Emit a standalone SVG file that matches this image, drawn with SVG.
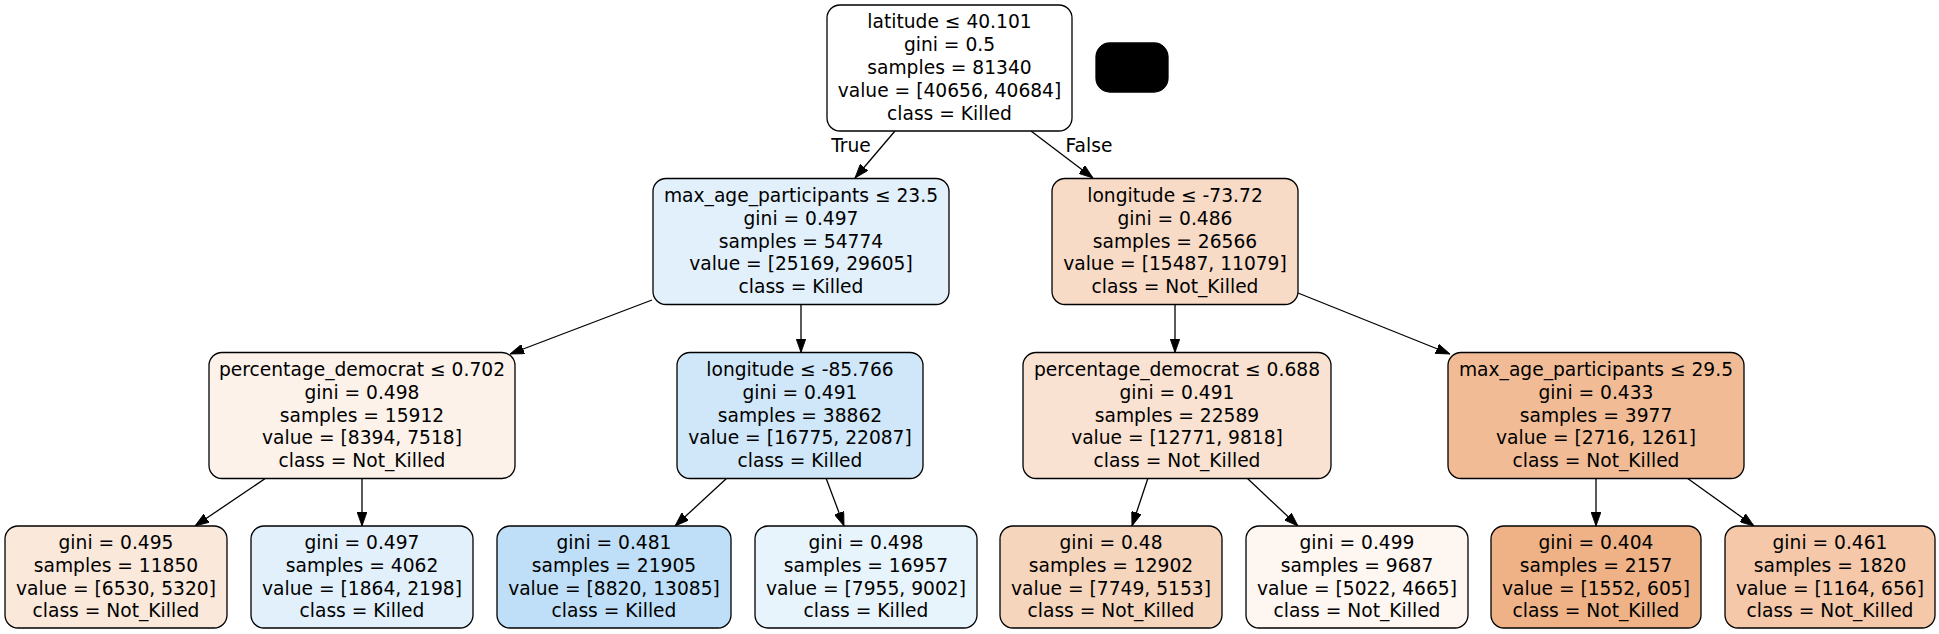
<svg xmlns="http://www.w3.org/2000/svg" width="1939" height="634" viewBox="0 0 1939 634">
<style>
.n rect{stroke:#000;stroke-width:1.3}
.n text,.lbl{font-family:"DejaVu Sans","Liberation Sans",sans-serif;font-size:18.67px;fill:#000;text-anchor:middle}
.e path{stroke:#000;stroke-width:1.3;fill:none;marker-end:url(#ah)}
</style>
<defs>
<marker id="ah" markerUnits="userSpaceOnUse" markerWidth="14" markerHeight="10" viewBox="0 0 13.3 9.4" refX="13.3" refY="4.7" orient="auto">
<path d="M0,0 L13.3,4.7 L0,9.4 z" fill="#000" stroke="#000" stroke-width="0.8"/>
</marker>
</defs>
<rect width="1939" height="634" fill="#fff"/>
<g id="connectors" class="e">
<path d="M895,131 L855,178"/>
<path d="M1031,131 L1093,178"/>
<path d="M652,300 L510,354"/>
<path d="M801,304.5 L801,352.5"/>
<path d="M1175,304.5 L1175,352.5"/>
<path d="M1298,293 L1450,354"/>
<path d="M266,478 L195,526"/>
<path d="M362,478.5 L362,526"/>
<path d="M727,478 L675,526"/>
<path d="M826,478 L844,526"/>
<path d="M1148,478 L1132,526"/>
<path d="M1247,478 L1298,526"/>
<path d="M1596,478.5 L1596,526"/>
<path d="M1687,478 L1754,526"/>
<text class="lbl" x="851" y="152">True</text>
<text class="lbl" x="1089" y="152">False</text>
</g>
<g id="node0" class="n">
<rect x="827" y="5" width="245" height="126" rx="13" fill="#ffffff"/>
<text x="949.5" y="28.2">latitude ≤ 40.101</text>
<text x="949.5" y="51.1">gini = 0.5</text>
<text x="949.5" y="74">samples = 81340</text>
<text x="949.5" y="96.9">value = [40656, 40684]</text>
<text x="949.5" y="119.8">class = Killed</text>
</g>
<g id="legend" class="n">
<rect x="1096" y="43" width="72" height="49" rx="14" fill="#000"/>
</g>
<g id="node1" class="n">
<rect x="653" y="178.5" width="296" height="126" rx="13" fill="#e1f0fb"/>
<text x="801" y="201.7">max_age_participants ≤ 23.5</text>
<text x="801" y="224.6">gini = 0.497</text>
<text x="801" y="247.5">samples = 54774</text>
<text x="801" y="270.4">value = [25169, 29605]</text>
<text x="801" y="293.3">class = Killed</text>
</g>
<g id="node2" class="n">
<rect x="1052" y="178.5" width="246" height="126" rx="13" fill="#f8dbc7"/>
<text x="1175" y="201.7">longitude ≤ -73.72</text>
<text x="1175" y="224.6">gini = 0.486</text>
<text x="1175" y="247.5">samples = 26566</text>
<text x="1175" y="270.4">value = [15487, 11079]</text>
<text x="1175" y="293.3">class = Not_Killed</text>
</g>
<g id="node3" class="n">
<rect x="209" y="352.5" width="306" height="126" rx="13" fill="#fcf2ea"/>
<text x="362" y="375.7">percentage_democrat ≤ 0.702</text>
<text x="362" y="398.6">gini = 0.498</text>
<text x="362" y="421.5">samples = 15912</text>
<text x="362" y="444.4">value = [8394, 7518]</text>
<text x="362" y="467.3">class = Not_Killed</text>
</g>
<g id="node4" class="n">
<rect x="677" y="352.5" width="246" height="126" rx="13" fill="#cfe7f9"/>
<text x="800" y="375.7">longitude ≤ -85.766</text>
<text x="800" y="398.6">gini = 0.491</text>
<text x="800" y="421.5">samples = 38862</text>
<text x="800" y="444.4">value = [16775, 22087]</text>
<text x="800" y="467.3">class = Killed</text>
</g>
<g id="node5" class="n">
<rect x="1023" y="352.5" width="308" height="126" rx="13" fill="#f9e2d1"/>
<text x="1177" y="375.7">percentage_democrat ≤ 0.688</text>
<text x="1177" y="398.6">gini = 0.491</text>
<text x="1177" y="421.5">samples = 22589</text>
<text x="1177" y="444.4">value = [12771, 9818]</text>
<text x="1177" y="467.3">class = Not_Killed</text>
</g>
<g id="node6" class="n">
<rect x="1448" y="352.5" width="296" height="126" rx="13" fill="#f1bc95"/>
<text x="1596" y="375.7">max_age_participants ≤ 29.5</text>
<text x="1596" y="398.6">gini = 0.433</text>
<text x="1596" y="421.5">samples = 3977</text>
<text x="1596" y="444.4">value = [2716, 1261]</text>
<text x="1596" y="467.3">class = Not_Killed</text>
</g>
<g id="leaf1" class="n">
<rect x="5" y="526" width="222" height="102" rx="13" fill="#fae8da"/>
<text x="116" y="548.7">gini = 0.495</text>
<text x="116" y="571.6">samples = 11850</text>
<text x="116" y="594.5">value = [6530, 5320]</text>
<text x="116" y="617.4">class = Not_Killed</text>
</g>
<g id="leaf2" class="n">
<rect x="251" y="526" width="222" height="102" rx="13" fill="#e1f0fb"/>
<text x="362" y="548.7">gini = 0.497</text>
<text x="362" y="571.6">samples = 4062</text>
<text x="362" y="594.5">value = [1864, 2198]</text>
<text x="362" y="617.4">class = Killed</text>
</g>
<g id="leaf3" class="n">
<rect x="497" y="526" width="234" height="102" rx="13" fill="#bedff7"/>
<text x="614" y="548.7">gini = 0.481</text>
<text x="614" y="571.6">samples = 21905</text>
<text x="614" y="594.5">value = [8820, 13085]</text>
<text x="614" y="617.4">class = Killed</text>
</g>
<g id="leaf4" class="n">
<rect x="755" y="526" width="222" height="102" rx="13" fill="#e8f4fc"/>
<text x="866" y="548.7">gini = 0.498</text>
<text x="866" y="571.6">samples = 16957</text>
<text x="866" y="594.5">value = [7955, 9002]</text>
<text x="866" y="617.4">class = Killed</text>
</g>
<g id="leaf5" class="n">
<rect x="1000" y="526" width="222" height="102" rx="13" fill="#f6d5bd"/>
<text x="1111" y="548.7">gini = 0.48</text>
<text x="1111" y="571.6">samples = 12902</text>
<text x="1111" y="594.5">value = [7749, 5153]</text>
<text x="1111" y="617.4">class = Not_Killed</text>
</g>
<g id="leaf6" class="n">
<rect x="1246" y="526" width="222" height="102" rx="13" fill="#fdf6f1"/>
<text x="1357" y="548.7">gini = 0.499</text>
<text x="1357" y="571.6">samples = 9687</text>
<text x="1357" y="594.5">value = [5022, 4665]</text>
<text x="1357" y="617.4">class = Not_Killed</text>
</g>
<g id="leaf7" class="n">
<rect x="1491" y="526" width="210" height="102" rx="13" fill="#efb286"/>
<text x="1596" y="548.7">gini = 0.404</text>
<text x="1596" y="571.6">samples = 2157</text>
<text x="1596" y="594.5">value = [1552, 605]</text>
<text x="1596" y="617.4">class = Not_Killed</text>
</g>
<g id="leaf8" class="n">
<rect x="1725" y="526" width="210" height="102" rx="13" fill="#f4c8a9"/>
<text x="1830" y="548.7">gini = 0.461</text>
<text x="1830" y="571.6">samples = 1820</text>
<text x="1830" y="594.5">value = [1164, 656]</text>
<text x="1830" y="617.4">class = Not_Killed</text>
</g>
</svg>
